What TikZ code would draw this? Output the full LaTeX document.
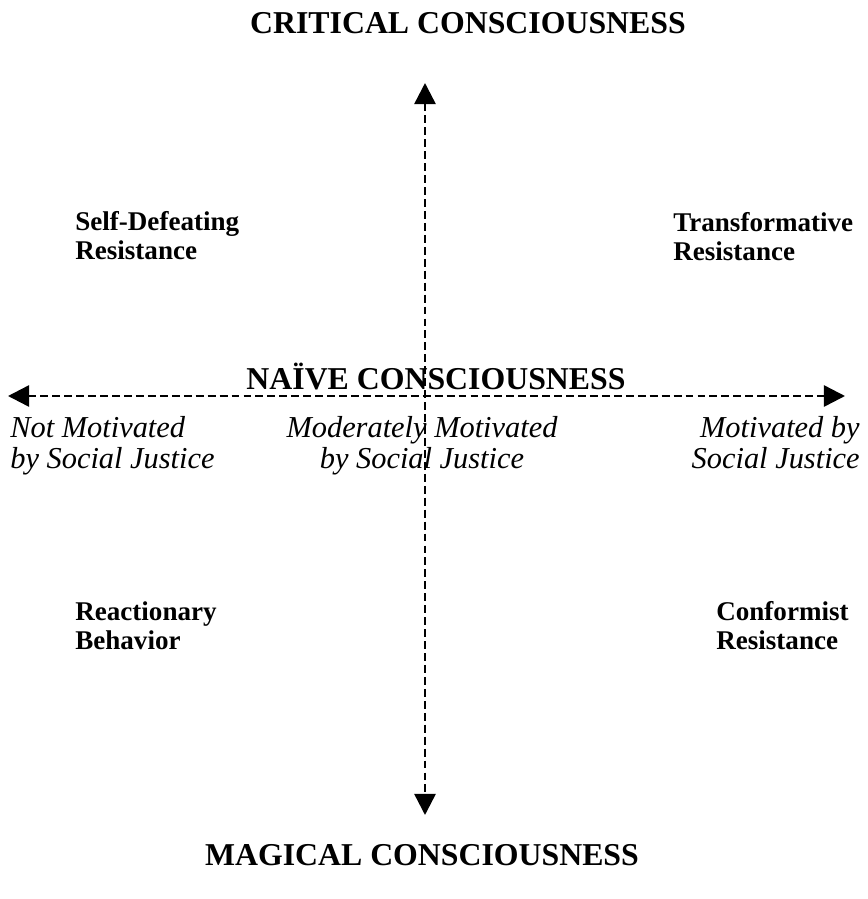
\documentclass[tikz,border=0pt]{standalone}
\usepackage{fontspec}
\setmainfont{Liberation Serif}
\usetikzlibrary{arrows.meta}

\tikzset{
	axis/.style={line width=1.4pt, dash pattern=on 4.5pt off 2.3pt,
	             {Triangle[length=12pt,width=12pt]}-{Triangle[length=12pt,width=12pt]}},
	level/.style={font=\bfseries\fontsize{18.1}{20}\selectfont, inner sep=0pt, anchor=base},
	stance/.style={font=\bfseries\fontsize{15.4}{16.2}\selectfont, align=left, inner sep=0pt, anchor=base west},
	motive/.style={font=\itshape\fontsize{17.3}{17.6}\selectfont, inner sep=0pt},
}

\begin{document}
\begin{tikzpicture}[x=0.02cm,y=-0.02cm]
	
	\def\midx{425}
	\def\midy{396}
	
	\useasboundingbox (0,0) rectangle (867,899);
	
	% The axes
	\coordinate (top)    at (\midx,83);
	\coordinate (bottom) at (\midx,815);
	\coordinate (left)   at (8,\midy);
	\coordinate (right)  at (845,\midy);
	\draw [axis] (top) -- (bottom);
	\draw [axis] (left) -- (right);
	
	% The levels of consciousness
	\node [level] (critical) at (468,33)  {CRITICAL CONSCIOUSNESS};
	\node [level] (naive)    at (436,389) {NAÏVE CONSCIOUSNESS};
	\node [level] (magical)  at (422,865) {MAGICAL CONSCIOUSNESS};
	
	% The kinds of resistance (placed at their last line)
	\node [stance] (selfdefeating)  at (75,259)  {Self-Defeating\\Resistance};
	\node [stance] (transformative) at (673,260) {Transformative\\Resistance};
	\node [stance] (reactionary)    at (75,649)  {Reactionary\\Behavior};
	\node [stance] (conformist)     at (716,649) {Conformist\\Resistance};
	
	% The motivation
	\node [motive, align=left, anchor=base west]   (notmotivated) at (10,468)
	      {Not Motivated\\by Social Justice};
	\node [motive, align=center, anchor=base]      (moderately)   at (422,468)
	      {Moderately Motivated\\by Social Justice};
	\node [motive, align=right, anchor=base east]  (motivated)    at (860,468)
	      {Motivated by\\Social Justice};
	
\end{tikzpicture}
\end{document}
